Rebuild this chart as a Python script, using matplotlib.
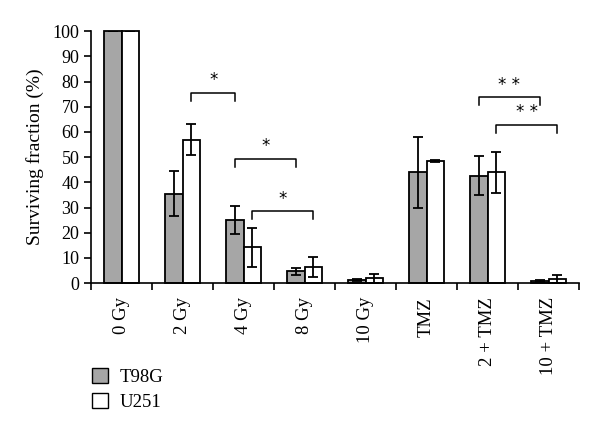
import matplotlib
matplotlib.use("Agg")
import matplotlib.pyplot as plt
from matplotlib.patches import Patch
import numpy as np

categories = ["0 Gy", "2 Gy", "4 Gy", "8 Gy", "10 Gy", "TMZ", "2 + TMZ", "10 + TMZ"]
t98g = [100, 35.5, 25.0, 4.7, 1.3, 44.0, 42.6, 1.0]
t98g_err = [0, 9.0, 5.5, 1.5, 0.5, 14.0, 7.8, 0.4]
u251 = [100, 57.0, 14.2, 6.3, 2.0, 48.5, 44.0, 1.6]
u251_err = [0, 6.0, 7.7, 4.0, 1.8, 0.3, 8.2, 1.5]
series_names = ["T98G", "U251"]
yticks = list(range(0, 101, 10))

# significance brackets: (cat_a, series_a, cat_b, series_b, y, label)
brackets = [
    (1, 1, 2, 0, 75.4, "*"),
    (2, 0, 3, 0, 49.2, "*"),
    (2, 1, 3, 1, 28.5, "*"),
    (6, 0, 7, 0, 73.7, "* *"),
    (6, 1, 7, 1, 62.7, "* *"),
]

plt.rcParams['font.family'] = ['Liberation Serif', 'DejaVu Serif']

fig = plt.figure(figsize=(6, 4.33), dpi=100)
ax = fig.add_axes([0.152, 0.346, 0.813, 0.582])

x = np.arange(len(categories))
w = 0.285
ekw = dict(ecolor='black', elinewidth=1.3, capsize=3.5, capthick=1.3)
ax.bar(x - w/2, t98g, w, yerr=t98g_err, color='#a6a6a6', edgecolor='black',
       linewidth=1.3, error_kw=ekw, clip_on=False, label=series_names[0])
ax.bar(x + w/2, u251, w, yerr=u251_err, color='white', edgecolor='black',
       linewidth=1.3, error_kw=ekw, clip_on=False, label=series_names[1])

def pos(c, s):
    return c - w/2 if s == 0 else c + w/2

for ca, sa, cb, sb, y, lab in brackets:
    xa, xb = pos(ca, sa), pos(cb, sb)
    ax.plot([xa, xa, xb, xb], [y - 3.1, y, y, y - 3.1], color='black', lw=1.1,
            clip_on=False)
    ax.text((xa + xb) / 2, y + 1.5, lab, ha='center', va='bottom', fontsize=12,
            family='DejaVu Sans')

ax.set_xlim(-0.5, len(categories) - 0.5)
ax.set_ylim(0, 100)
ax.set_yticks(yticks)
ax.tick_params(axis='y', labelsize=13, direction='out', length=5, width=1.2)
ax.set_xticks(x)
ax.set_xticklabels(categories, rotation=90, fontsize=13.5)
ax.tick_params(axis='x', which='major', length=0, pad=10)
ax.set_xticks(np.arange(-0.5, len(categories)), minor=True)
ax.tick_params(axis='x', which='minor', direction='out', length=5, width=1.2)
ax.spines['top'].set_visible(False)
ax.spines['right'].set_visible(False)
ax.spines['left'].set_linewidth(1.2)
ax.spines['bottom'].set_linewidth(1.2)
ax.set_ylabel("Surviving fraction (%)", fontsize=14, labelpad=6)

handles = [Patch(facecolor='#a6a6a6', edgecolor='black', linewidth=1.0),
           Patch(facecolor='white', edgecolor='black', linewidth=1.0)]
fig.legend(handles, series_names, loc='upper left', bbox_to_anchor=(0.14, 0.168),
           frameon=False, fontsize=13.5, handlelength=0.9, handleheight=0.9,
           handletextpad=0.6, labelspacing=0.35, borderaxespad=0)

fig.savefig("out.png", dpi=100)
